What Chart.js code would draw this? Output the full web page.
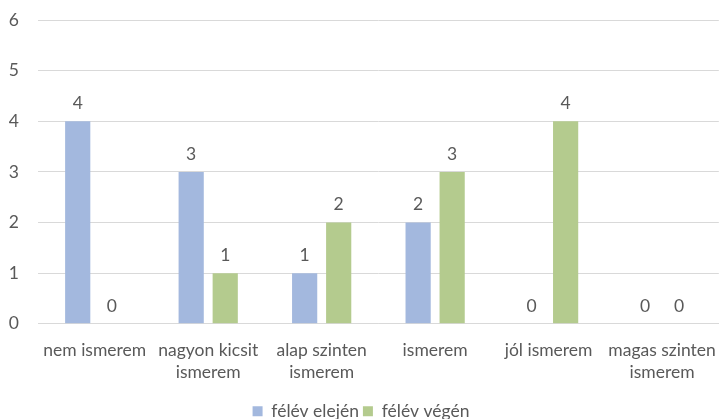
<!DOCTYPE html>
<html>
<head>
<meta charset="utf-8">
<script src="https://cdn.jsdelivr.net/npm/chart.js@4/dist/chart.umd.min.js"></script>
<style>
html, body { margin: 0; padding: 0; background: #fff; }
#wrap { width: 724px; height: 419px; }
</style>
</head>
<body>
<div id="wrap"><canvas id="myChart" width="724" height="419"></canvas></div>
<script>
// adatok
const categories = [
    ["nem ismerem"],
    ["nagyon kicsit", "ismerem"],
    ["alap szinten", "ismerem"],
    ["ismerem"],
    ["jól ismerem"],
    ["magas szinten", "ismerem"]
];
const elejen = [4, 3, 1, 2, 0, 0];
const vegen = [0, 1, 2, 3, 4, 0];
const seriesNames = ["félév elején", "félév végén"];
const yTicks = [0, 1, 2, 3, 4, 5, 6];

const textColor = "#595959";
const font = "Lato, 'Open Sans', sans-serif";
const fontSize = 17.5;

// ertekek a oszlopok folott
const valueLabels = {
    id: "valueLabels",
    afterDatasetsDraw(chart) {
        let ctx = chart.ctx;
        ctx.save();
        ctx.fillStyle = textColor;
        ctx.font = fontSize + "px " + font;
        ctx.textAlign = "center";
        ctx.textBaseline = "bottom";
        chart.data.datasets.forEach(function(ds, i) {
            let meta = chart.getDatasetMeta(i);
            meta.data.forEach(function(bar, j) {
                ctx.fillText(ds.data[j], bar.x, bar.y - 9);
            });
        });
        ctx.restore();
    }
};

let ctx = document.getElementById("myChart").getContext("2d");
let myChart = new Chart(ctx, {
    type: "bar",
    data: {
        labels: categories,
        datasets: [
            {
                label: seriesNames[0],
                data: elejen,
                backgroundColor: "#a3b8de",
                barPercentage: 0.74,
                categoryPercentage: 0.6
            },
            {
                label: seriesNames[1],
                data: vegen,
                backgroundColor: "#b4cb8e",
                barPercentage: 0.74,
                categoryPercentage: 0.6
            }
        ]
    },
    options: {
        responsive: false,
        animation: false,
        layout: { padding: { left: 0, right: 2, top: 20, bottom: -11 } },
        plugins: {
            tooltip: { enabled: false },
            legend: {
                position: "bottom",
                labels: {
                    color: textColor,
                    font: { family: font, size: fontSize },
                    boxWidth: 10,
                    boxHeight: 10,
                    padding: 4
                }
            }
        },
        scales: {
            x: {
                grid: { display: false },
                border: { color: "#d9d9d9" },
                afterFit: function(axis) {
                    axis.height += 7;
                    axis.paddingTop = 0;
                },
                ticks: {
                    color: textColor,
                    font: { family: font, size: fontSize, lineHeight: 1.25 },
                    maxRotation: 0,
                    autoSkip: false,
                    padding: 8
                }
            },
            y: {
                min: 0,
                max: 6,
                afterBuildTicks: function(axis) {
                    axis.ticks = yTicks.map(function(v) { return { value: v }; });
                },
                afterFit: function(axis) {
                    axis.width = 38;
                    axis.paddingTop = 0;
                },
                grid: { color: "#d9d9d9", drawTicks: false },
                border: { display: false },
                ticks: {
                    color: textColor,
                    font: { family: font, size: fontSize },
                    padding: 19
                }
            }
        }
    },
    plugins: [valueLabels]
});
</script>
</body>
</html>
